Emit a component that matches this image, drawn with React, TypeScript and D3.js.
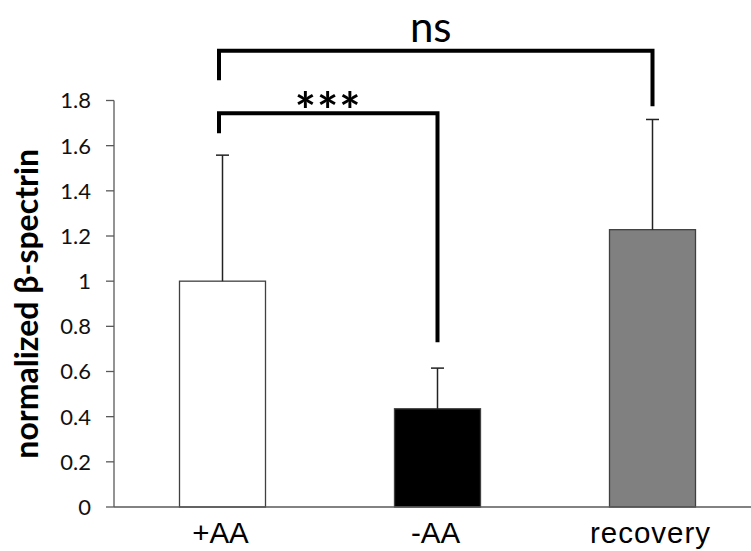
import React from "react";
import * as d3 from "d3";

const categories = ["+AA", "-AA", "recovery"];
const means = [1.0, 0.435, 1.228];
const errors = [0.558, 0.18, 0.488];
const fills = ["#ffffff", "#000000", "#808080"];
const yTicks = [0, 0.2, 0.4, 0.6, 0.8, 1, 1.2, 1.4, 1.6, 1.8];
const yTitle = "normalized β-spectrin";

// significance brackets
const bracketFrom = ["+AA", "+AA"];
const bracketTo = ["recovery", "-AA"];
const bracketTop = [2.02, 1.744];
const bracketLeftEnd = [1.89, 1.655];
const bracketRightEnd = [1.775, 0.73];
const bracketLabels = ["ns", "***"];

const W = 751;
const H = 551;

export default function App() {
  const y = d3.scaleLinear().domain([0, 1.8]).range([507, 100.5]);
  const x = d3
    .scaleBand<string>()
    .domain(categories)
    .range([115, 760])
    .paddingInner(0.6)
    .paddingOuter(0.3);
  const bw = x.bandwidth();
  const cx = (c: string) => (x(c) as number) + bw / 2;
  const axisX = 114;
  const font = "Lato, 'Open Sans', sans-serif";

  return (
    <svg
      width={W}
      height={H}
      style={{ position: "absolute", left: 0, top: 0, background: "#fff" }}
    >
      {/* bars */}
      {categories.map((c, i) => (
        <rect
          key={c}
          x={x(c)}
          y={y(means[i])}
          width={bw}
          height={y(0) - y(means[i])}
          fill={fills[i]}
          stroke="#404040"
          strokeWidth={1.3}
        />
      ))}
      {/* error bars */}
      {categories.map((c, i) => (
        <g key={"e" + c} stroke="#222" strokeWidth={1.5}>
          <line x1={cx(c)} x2={cx(c)} y1={y(means[i])} y2={y(means[i] + errors[i])} />
          <line
            x1={cx(c) - 6.5}
            x2={cx(c) + 6.5}
            y1={y(means[i] + errors[i])}
            y2={y(means[i] + errors[i])}
          />
        </g>
      ))}
      {/* y axis */}
      <line x1={axisX} x2={axisX} y1={y(1.8)} y2={y(0)} stroke="#595959" strokeWidth={1.3} />
      {yTicks.map((t) => (
        <g key={t}>
          <line x1={axisX - 8} x2={axisX} y1={y(t)} y2={y(t)} stroke="#595959" strokeWidth={1.3} />
          <text
            x={91}
            y={y(t)}
            dy="0.36em"
            textAnchor="end"
            fontFamily={font}
            fontSize={22}
            fill="#111"
          >
            {String(t)}
          </text>
        </g>
      ))}
      {/* x axis */}
      <line x1={axisX} x2={W} y1={y(0)} y2={y(0)} stroke="#595959" strokeWidth={1.3} />
      {categories.map((c) => (
        <text
          key={"l" + c}
          x={cx(c) - 2}
          y={543}
          textAnchor="middle"
          fontFamily="'Liberation Sans', Arial, sans-serif"
          fontSize={29.5}
          letterSpacing={c === "recovery" ? 1 : 0}
          fill="#000"
        >
          {c}
        </text>
      ))}
      {/* y title */}
      <text
        transform={`translate(38, ${(y(0) + y(1.8)) / 2}) rotate(-90)`}
        textAnchor="middle"
        fontFamily={font}
        fontWeight="bold"
        fontSize={32}
        fill="#000"
      >
        {yTitle}
      </text>
      {/* brackets */}
      {bracketLabels.map((lab, i) => {
        const x1 = cx(bracketFrom[i]) - 3.5;
        const x2 = cx(bracketTo[i]);
        const yt = y(bracketTop[i]);
        const path = `M${x1},${y(bracketLeftEnd[i])}V${yt}H${x2}V${y(bracketRightEnd[i])}`;
        return (
          <g key={"b" + i}>
            <path d={path} fill="none" stroke="#000" strokeWidth={4} />
            <text
              x={i === 0 ? (x1 + x2) / 2 - 5 : (x1 + x2) / 2}
              y={i === 0 ? yt - 8.5 : yt + 16}
              textAnchor="middle"
              fontFamily={font}
              fontWeight={i === 0 ? "normal" : "bold"}
              fontSize={i === 0 ? 42 : 50}
              letterSpacing={i === 0 ? 0 : 1}
              fill="#000"
            >
              {lab}
            </text>
          </g>
        );
      })}
    </svg>
  );
}
